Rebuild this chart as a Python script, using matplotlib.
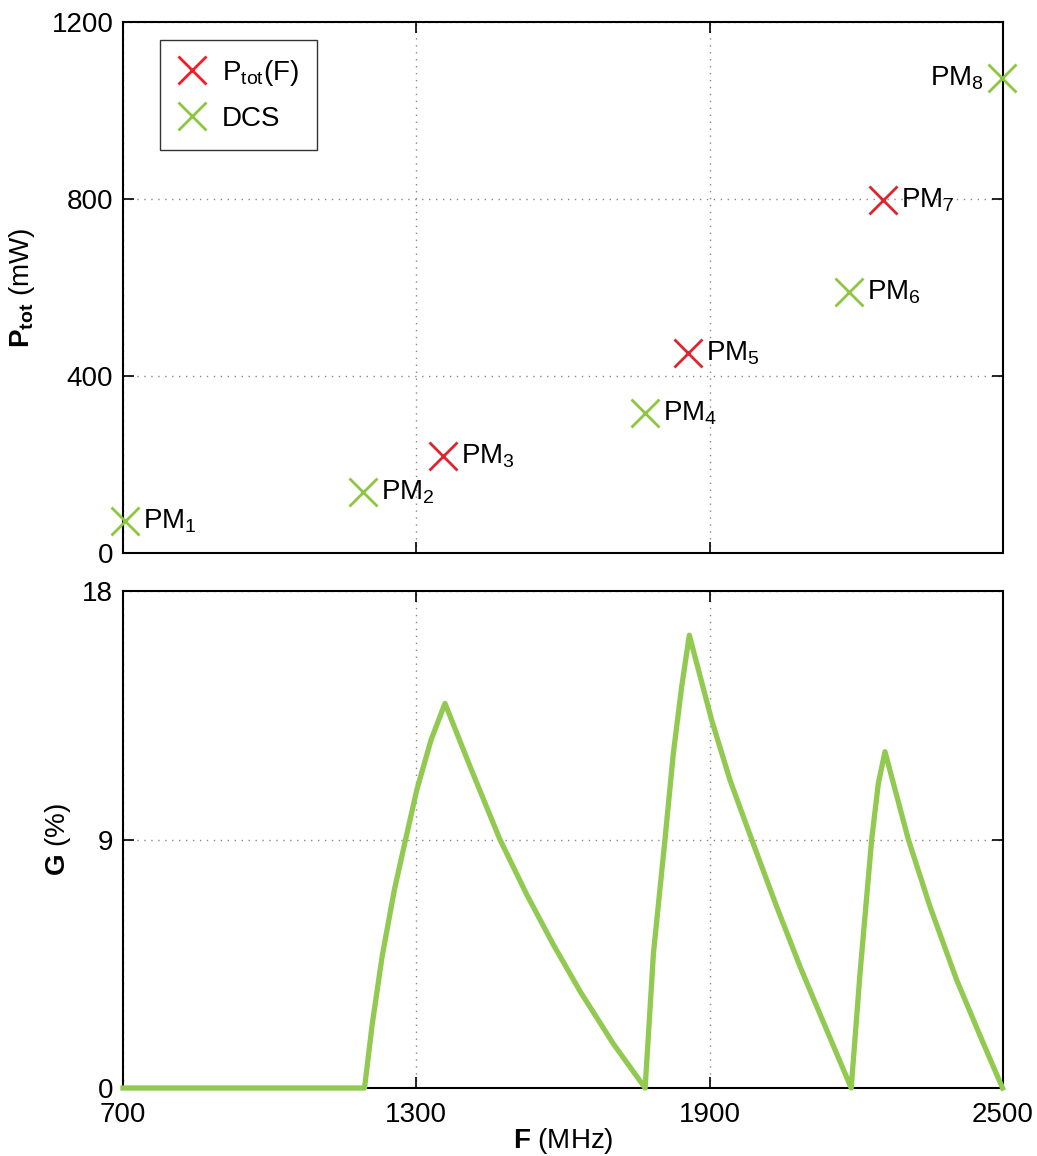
import matplotlib
matplotlib.use("Agg")
import matplotlib.pyplot as plt

plt.rcParams['font.family'] = ['Liberation Sans', 'DejaVu Sans']
plt.rcParams['mathtext.fontset'] = 'custom'
plt.rcParams['mathtext.rm'] = 'Liberation Sans'
plt.rcParams['mathtext.it'] = 'Liberation Sans:italic'
plt.rcParams['mathtext.bf'] = 'Liberation Sans:bold'

# ---- data ----
pm_names = ["PM$_1$", "PM$_2$", "PM$_3$", "PM$_4$", "PM$_5$", "PM$_6$", "PM$_7$", "PM$_8$"]
pm_freq = [704, 1191, 1355, 1768, 1856, 2185, 2254, 2498]
pm_power = [72, 138, 219, 316, 452, 590, 798, 1073]
pm_kind = ["DCS", "DCS", "Ptot", "DCS", "Ptot", "DCS", "Ptot", "DCS"]

g_freq = [700, 1194, 1210, 1230, 1255, 1278, 1301, 1330, 1358.6,
          1410, 1471, 1526, 1580, 1635, 1703, 1768,
          1785, 1808.6, 1825.7, 1842.7, 1858.4,
          1904, 1941.6, 1986, 2037, 2085, 2139.4, 2189.5,
          2207.5, 2231.4, 2245, 2258.6,
          2306.4, 2350.7, 2405.3, 2453, 2499]
g_val = [0, 0, 2.34, 4.76, 7.17, 9.0, 10.8, 12.6, 13.93,
         11.64, 9.0, 7.0, 5.2, 3.5, 1.6, 0,
         4.88, 9.0, 12.12, 14.53, 16.4,
         13.33, 11.15, 9.0, 6.57, 4.39, 2.1, 0,
         4.15, 9.0, 11.03, 12.18,
         9.0, 6.57, 3.91, 1.9, 0]

red = '#e8202a'
green = '#8dc63f'
line_green = '#92c950'

fig = plt.figure(figsize=(10.37, 11.56), dpi=100)
W, H = 1037, 1156
ax1 = fig.add_axes([123 / W, (H - 553) / H, 880 / W, 531 / H])
ax2 = fig.add_axes([123 / W, (H - 1088) / H, 880 / W, 497 / H])

fs = 20
ms = 20

for ax in (ax1, ax2):
    ax.set_xlim(700, 2500)
    ax.set_xticks([700, 1300, 1900, 2500])
    ax.grid(True, linestyle=(0, (1, 4)), color='#888888', linewidth=1.0)
    ax.tick_params(direction='in', top=True, right=True, length=8, width=1.2,
                   labelsize=fs, colors='black')
    ax.tick_params(axis='y', pad=7)
    ax.tick_params(axis='x', pad=10)
    for s in ax.spines.values():
        s.set_linewidth(1.5)

# top plot
ax1.set_ylim(0, 1200)
ax1.set_yticks([0, 400, 800, 1200])
ax1.tick_params(labelbottom=False)
for f, p, k in zip(pm_freq, pm_power, pm_kind):
    ax1.plot(f, p, marker='x', linestyle='none', markersize=ms, markeredgewidth=2,
             color=red if k == "Ptot" else green, clip_on=False, zorder=5)
for name, f, p in zip(pm_names, pm_freq, pm_power):
    if name == pm_names[-1]:
        ax1.annotate(name, (f, p), xytext=(-13, 0), textcoords='offset points',
                     ha='right', va='center', fontsize=fs)
    else:
        ax1.annotate(name, (f, p), xytext=(13, 0), textcoords='offset points',
                     ha='left', va='center', fontsize=fs)
h1, = ax1.plot([], [], marker='x', linestyle='none', markersize=ms, markeredgewidth=2, color=red)
h2, = ax1.plot([], [], marker='x', linestyle='none', markersize=ms, markeredgewidth=2, color=green)
leg = ax1.legend([h1, h2], ["P$_{\\mathrm{tot}}$(F)", "DCS"], loc='upper left',
                 bbox_to_anchor=(37 / 880, 1 - 18 / 531), borderaxespad=0,
                 fontsize=fs, frameon=True, fancybox=False, edgecolor='black',
                 handlelength=1.0, handletextpad=0.58, borderpad=0.65, labelspacing=0.65)
leg.get_frame().set_linewidth(1.0)
ax1.set_ylabel(r"$\mathbf{P_{tot}}$ (mW)", fontsize=fs)
ax1.yaxis.set_label_coords((37 - 123) / 880, 0.5)

# bottom plot
ax2.plot(g_freq, g_val, color=line_green, linewidth=3.8, solid_joinstyle='round',
         clip_on=False, zorder=4)
ax2.set_ylim(0, 18)
ax2.set_yticks([0, 9, 18])
ax2.set_ylabel(r"$\mathbf{G}$ (%)", fontsize=fs)
ax2.yaxis.set_label_coords((73 - 123) / 880, 0.5)
ax2.set_xlabel(r"$\mathbf{F}$ (MHz)", fontsize=fs, labelpad=-1)

fig.savefig("out.png", dpi=100)
